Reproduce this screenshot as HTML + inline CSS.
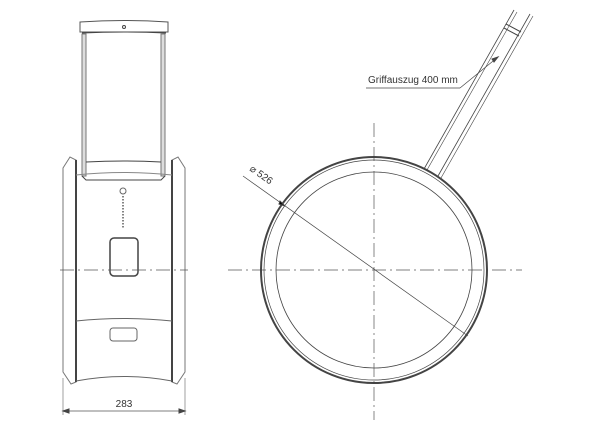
<!DOCTYPE html><html><head><style>body{margin:0;background:#fff}svg{display:block}text{font-family:"Liberation Sans",sans-serif;fill:#333}</style></head><body>
<svg width="600" height="436" viewBox="0 0 600 436" fill="none" stroke="#444" stroke-width="1">
<path d="M80 22 Q124 19 168 22 L168 32 L80 32 Z" stroke="#555"/>
<circle cx="124" cy="27" r="1.5"/>
<path d="M82 33 Q124 31 166 33" />
<rect x="82" y="34" width="4" height="142" fill="#ddd" stroke="#777"/>
<rect x="161" y="34" width="4" height="142" fill="#ddd" stroke="#777"/>
<path d="M86 162 Q124 160 161 162"/>
<path d="M82 176 L86 180 L161 180 L165 176"/>
<path d="M63 168 L70 157 L76 160 L76 382 L71 384 L63 372 Z" stroke="#777"/>
<path d="M185 168 L178 157 L172 160 L172 382 L177 384 L185 372 Z" stroke="#777"/>
<line x1="76" y1="160" x2="76" y2="382" stroke-width="2"/>
<line x1="172" y1="160" x2="172" y2="382" stroke-width="2"/>
<path d="M76 175 Q124 170 172 175" stroke="#888"/>
<circle cx="123" cy="191" r="3" stroke="#666"/>
<line x1="123" y1="196" x2="123" y2="228" stroke-dasharray="1.5 1.5" stroke="#333" stroke-width="1.2"/>
<rect x="110" y="238" width="28" height="38" rx="4" stroke-width="1.5"/>
<line x1="60" y1="270" x2="188" y2="270" stroke="#555" stroke-dasharray="14 4 2 4" stroke-width="0.7"/>
<path d="M76 321 Q124 316 172 321" stroke="#666"/>
<rect x="110" y="328" width="27" height="13" rx="3" stroke="#666"/>
<path d="M76 381 Q124 372 172 381" stroke="#666"/>
<line x1="63" y1="378" x2="63" y2="415" stroke="#777" stroke-width="0.7"/>
<line x1="185" y1="378" x2="185" y2="415" stroke="#777" stroke-width="0.7"/>
<line x1="63" y1="411" x2="185" y2="411" stroke="#555" stroke-width="0.8"/>
<path d="M63 411 l6 -2 v4z M185 411 l-6 -2 v4z" fill="#444"/>
<text x="124" y="407" font-size="10" text-anchor="middle" stroke="none">283</text>
<line x1="374" y1="123" x2="374" y2="420" stroke="#555" stroke-dasharray="14 4 2 4" stroke-width="0.7"/>
<line x1="228" y1="270" x2="522" y2="270" stroke="#555" stroke-dasharray="14 4 2 4" stroke-width="0.7"/>
<circle cx="374" cy="270" r="113" stroke-width="2"/>
<circle cx="374" cy="270" r="110" stroke-width="0.7"/>
<circle cx="374" cy="270" r="98" stroke-width="0.8"/>
<line x1="424" y1="169" x2="514" y2="10" stroke-width="0.8"/>
<line x1="427" y1="170" x2="517" y2="12" stroke-width="0.6"/>
<line x1="438" y1="176" x2="530" y2="14" stroke-width="0.8"/>
<line x1="441" y1="178" x2="533" y2="16" stroke-width="0.6"/>
<line x1="506" y1="24" x2="521" y2="32" stroke-width="1"/>
<line x1="504" y1="28" x2="519" y2="36" stroke-width="1"/>
<line x1="243" y1="176" x2="468" y2="336" stroke-width="0.7"/>
<path d="M285 206 l-5 -5 l-1 3z" fill="#000"/>
<text x="0" y="0" font-size="10" stroke="none" transform="translate(249 170) rotate(35.4)">⌀ 526</text>
<line x1="366" y1="88" x2="460" y2="88" stroke-width="0.7"/>
<line x1="460" y1="88" x2="498" y2="57" stroke-width="0.7"/>
<path d="M498 57 l-6 2 l2 3z" fill="#444"/>
<text x="368" y="83" font-size="10" stroke="none">Griffauszug 400 mm</text>
</svg></body></html>
